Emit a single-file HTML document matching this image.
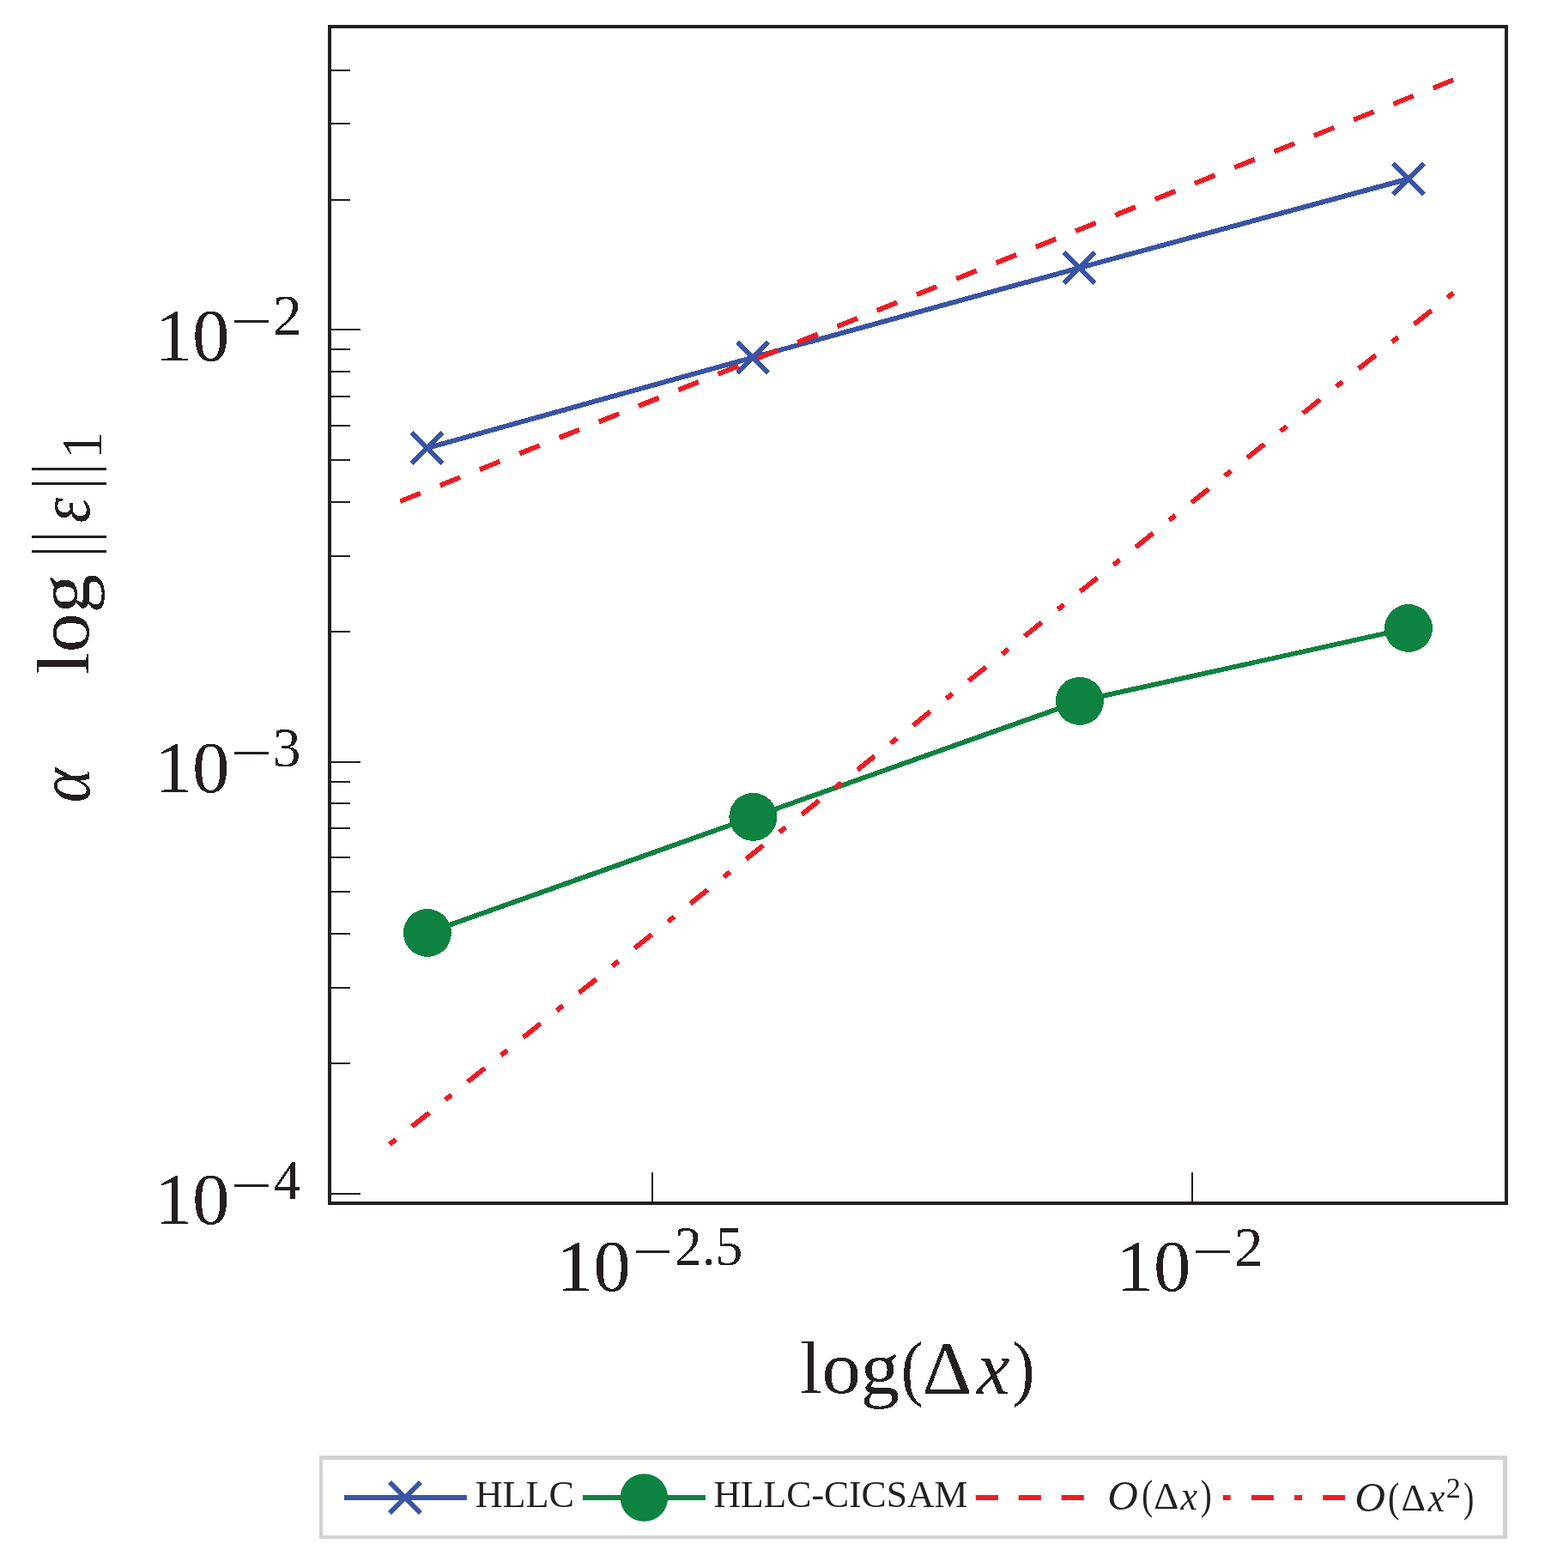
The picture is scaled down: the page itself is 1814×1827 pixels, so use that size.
<!DOCTYPE html><html><head><meta charset="utf-8"><title>Convergence plot</title><style>html,body{margin:0;padding:0;background:#fff;width:1814px;height:1827px;overflow:hidden}svg{display:block}text{font-family:"Liberation Serif","DejaVu Serif",serif;fill:#231f20;font-kerning:none;font-variant-ligatures:none}</style></head><body>
<svg width="1814" height="1827" viewBox="0 0 1814 1827">
<rect width="1814" height="1827" fill="#fff"/>
<defs><filter id="crisp" filterUnits="userSpaceOnUse" x="0" y="0" width="1814" height="1827" color-interpolation-filters="sRGB"><feComponentTransfer><feFuncA type="discrete" tableValues="0 1"/></feComponentTransfer></filter></defs>
<g filter="url(#crisp)">
<path d="M386 384H420M386 233H408M386 144H408M386 82H408M386 888H420M386 736H408M386 648H408M386 585H408M386 536H408M386 496H408M386 462H408M386 433H408M386 407H408M386 1391H420M386 1239H408M386 1151H408M386 1088H408M386 1039H408M386 999H408M386 965H408M386 936H408M386 911H408M760 1400V1366M1389 1400V1366" stroke="#231f20" stroke-width="2" fill="none"/>
<polyline points="497.9,521.9 877.4,416.4 1257.9,311.9 1640.9,208.4" fill="none" stroke="#3954a4" stroke-width="5.75" stroke-linejoin="round"/>
<path d="M479.9 503.9L515.9 539.9M479.9 539.9L515.9 503.9M859.4 398.4L895.4 434.4M859.4 434.4L895.4 398.4M1239.9 293.9L1275.9 329.9M1239.9 329.9L1275.9 293.9M1622.9 190.4L1658.9 226.4M1622.9 226.4L1658.9 190.4" stroke="#3954a4" stroke-width="5.7" fill="none"/>
<polyline points="497.9,1087 877.4,951.9 1257.9,816.9 1641,732" fill="none" stroke="#0e8241" stroke-width="5.75" stroke-linejoin="round"/>
<circle cx="497.9" cy="1087" r="28" fill="#0e8241"/>
<circle cx="877.4" cy="951.9" r="28" fill="#0e8241"/>
<circle cx="1257.9" cy="816.9" r="28" fill="#0e8241"/>
<circle cx="1641" cy="732" r="28" fill="#0e8241"/>
<path d="M466.3 584.1L1693.5 93" stroke="#ed1c24" stroke-width="5.75" fill="none" stroke-dasharray="25.4 24.45"/>
<path d="M453.9 1333.4L1693.2 341.3" stroke="#ed1c24" stroke-width="5.75" fill="none" stroke-dasharray="9.3 24.05 25.7 24.05"/>
<path d="M382 29H1757V33H382ZM382 1400H1757V1404H382ZM382 29H386V1404H382ZM1753 29H1757V1404H1753Z" fill="#231f20"/>
<text x="180.56" y="419.9" font-size="86.16" textLength="86.95" lengthAdjust="spacingAndGlyphs">10</text>
<text x="268.74" y="395.6" font-size="66.27" textLength="48.24" lengthAdjust="spacingAndGlyphs">−</text>
<text x="318.04" y="390.2" font-size="66.61" textLength="33.68" lengthAdjust="spacingAndGlyphs">2</text>
<text x="180.56" y="923.1" font-size="85.41" textLength="86.95" lengthAdjust="spacingAndGlyphs">10</text>
<text x="268.74" y="898.9" font-size="66.27" textLength="48.24" lengthAdjust="spacingAndGlyphs">−</text>
<text x="317.87" y="893.4" font-size="65.7" textLength="32.68" lengthAdjust="spacingAndGlyphs">3</text>
<text x="180.56" y="1425.8" font-size="85.41" textLength="86.95" lengthAdjust="spacingAndGlyphs">10</text>
<text x="268.74" y="1402.5" font-size="66.27" textLength="48.24" lengthAdjust="spacingAndGlyphs">−</text>
<text x="318.77" y="1396.8" font-size="66.24" textLength="31.41" lengthAdjust="spacingAndGlyphs">4</text>
<text x="648.3" y="1504.1" font-size="85.56" textLength="86.5" lengthAdjust="spacingAndGlyphs">10</text>
<text x="737.03" y="1480.4" font-size="66.27" textLength="47.27" lengthAdjust="spacingAndGlyphs">−</text>
<text x="786.01" y="1474.3" font-size="65.09" textLength="79.37" lengthAdjust="spacingAndGlyphs">2.5</text>
<text x="1300.58" y="1504.2" font-size="85.41" textLength="86.73" lengthAdjust="spacingAndGlyphs">10</text>
<text x="1388.85" y="1480.4" font-size="66.27" textLength="48.11" lengthAdjust="spacingAndGlyphs">−</text>
<text x="1438.04" y="1474.6" font-size="65.85" textLength="33.68" lengthAdjust="spacingAndGlyphs">2</text>
<text x="932.28" y="1622.7" font-size="85.75" textLength="115.94" lengthAdjust="spacingAndGlyphs">log</text>
<text x="1049.73" y="1622.48" font-size="85.59" textLength="25.54" lengthAdjust="spacingAndGlyphs">(</text>
<text x="1074.58" y="1622.6" font-size="87.25" textLength="57.8" lengthAdjust="spacingAndGlyphs">Δ</text>
<text x="1138.06" y="1623.5" font-size="88.67" textLength="38.48" lengthAdjust="spacingAndGlyphs" style="font-style:italic;">x</text>
<text x="1179.48" y="1622.48" font-size="85.59" textLength="26.06" lengthAdjust="spacingAndGlyphs">)</text>
<g transform="rotate(-90)"><text x="-935.28" y="103.6" font-size="86.29" textLength="40.21" lengthAdjust="spacingAndGlyphs" style="font-style:italic;">α</text><text x="-785.63" y="103.2" font-size="86.76" textLength="116.67" lengthAdjust="spacingAndGlyphs">log</text><text x="-648.53" y="104.13" font-size="94.88" textLength="12.46" lengthAdjust="spacingAndGlyphs">|</text><text x="-631.63" y="104.13" font-size="94.88" textLength="12.46" lengthAdjust="spacingAndGlyphs">|</text><text x="-609.3" y="103.6" font-size="85.53" textLength="29.27" lengthAdjust="spacingAndGlyphs" style="font-style:italic;">ε</text><text x="-569.73" y="104.13" font-size="94.88" textLength="12.46" lengthAdjust="spacingAndGlyphs">|</text><text x="-552.63" y="104.13" font-size="94.88" textLength="12.46" lengthAdjust="spacingAndGlyphs">|</text><text x="-534.37" y="118" font-size="66.95" textLength="31.1" lengthAdjust="spacingAndGlyphs">1</text></g>
<rect x="376" y="1701" width="1375" height="88" fill="#fff"/>
<path d="M372 1696H1756V1701H372ZM372 1789H1756V1793H372ZM372 1696H376V1793H372ZM1751 1696H1756V1793H1751Z" fill="#d1d2d4"/>
<path d="M401 1745H543.9" stroke="#3954a4" stroke-width="6"/>
<path d="M453.95 1727L489.95 1763M453.95 1763L489.95 1727" stroke="#3954a4" stroke-width="5.7" fill="none"/>
<path d="M678.9 1745H822" stroke="#0e8241" stroke-width="6"/>
<circle cx="750.4" cy="1745" r="27.8" fill="#0e8241"/>
<path d="M1136.8 1745H1279.8" stroke="#ed1c24" stroke-width="6" stroke-dasharray="26.2 23.7"/>
<path d="M1424.8 1745H1567" stroke="#ed1c24" stroke-width="6" stroke-dasharray="8.9 24.2 26 24.2"/>
<text x="553.63" y="1756.1" font-size="44.1" textLength="115.31" lengthAdjust="spacingAndGlyphs">HLLC</text>
<text x="831.44" y="1756.3" font-size="45.16" textLength="295.84" lengthAdjust="spacingAndGlyphs">HLLC-CICSAM</text>
<text x="1290.32" y="1758.6" font-size="47.88" textLength="35.64" lengthAdjust="spacingAndGlyphs" style="font-style:italic;">O</text>
<text x="1330.19" y="1758.29" font-size="48.42" textLength="12.97" lengthAdjust="spacingAndGlyphs">(</text>
<text x="1344.27" y="1757.8" font-size="45.14" textLength="29.13" lengthAdjust="spacingAndGlyphs">Δ</text>
<text x="1375.54" y="1758.9" font-size="47.71" textLength="19.58" lengthAdjust="spacingAndGlyphs" style="font-style:italic;">x</text>
<text x="1398.75" y="1758.29" font-size="48.42" textLength="12.97" lengthAdjust="spacingAndGlyphs">)</text>
<text x="1578.3" y="1760.6" font-size="47.58" textLength="35.86" lengthAdjust="spacingAndGlyphs" style="font-style:italic;">O</text>
<text x="1617.02" y="1760.52" font-size="48.31" textLength="13.48" lengthAdjust="spacingAndGlyphs">(</text>
<text x="1632.41" y="1760.1" font-size="45.14" textLength="28.56" lengthAdjust="spacingAndGlyphs">Δ</text>
<text x="1663.64" y="1760.9" font-size="47.71" textLength="19.58" lengthAdjust="spacingAndGlyphs" style="font-style:italic;">x</text>
<text x="1684.7" y="1744.8" font-size="33.08" textLength="17.09" lengthAdjust="spacingAndGlyphs">2</text>
<text x="1704.91" y="1760.52" font-size="48.31" textLength="12.32" lengthAdjust="spacingAndGlyphs">)</text>
</g></svg></body></html>
